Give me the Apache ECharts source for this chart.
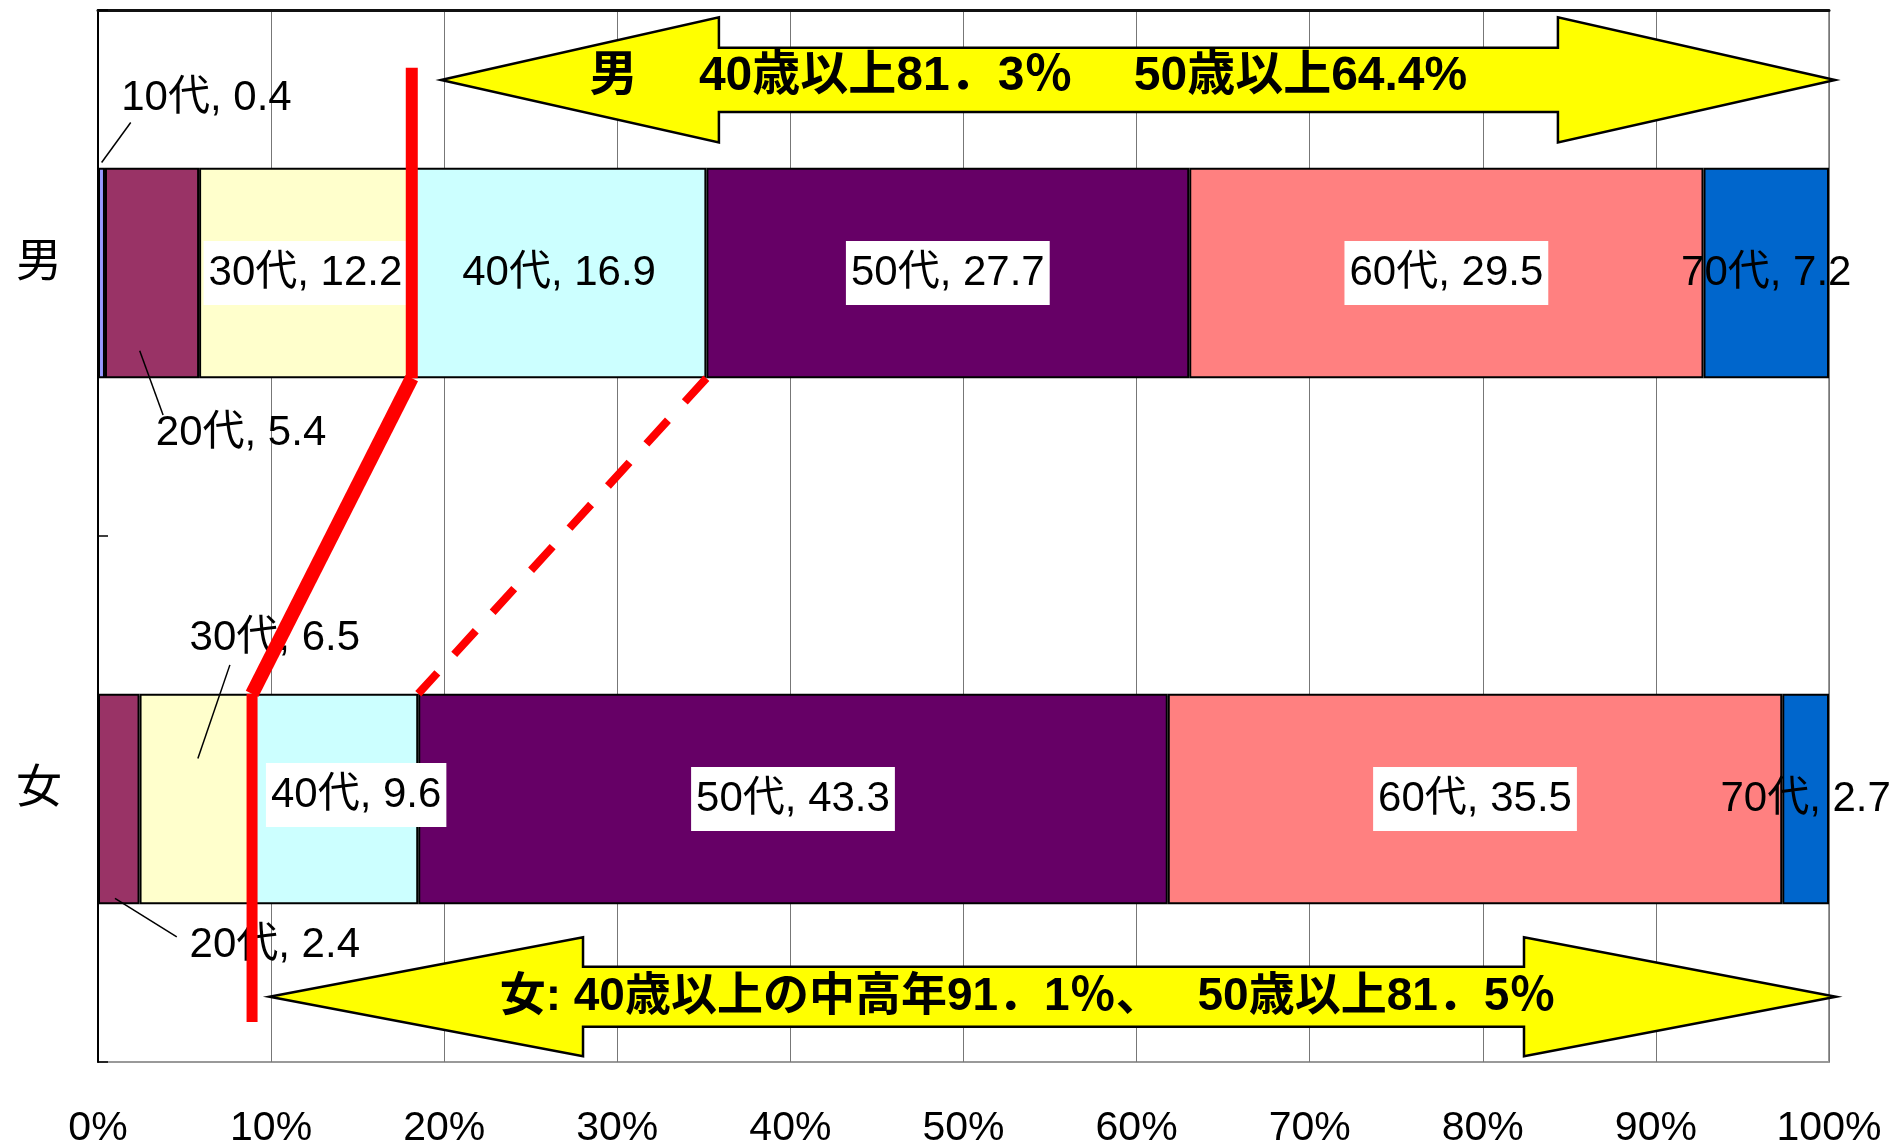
<!DOCTYPE html>
<html>
<head>
<meta charset="utf-8">
<script src="https://cdn.jsdelivr.net/npm/echarts@6/dist/echarts.min.js"></script>
<style>html,body{margin:0;padding:0;background:#fff}#chart{width:1904px;height:1146px}</style>
</head>
<body>
<div id="chart"></div>
<script>
// ---------------- data ----------------
const categories = ['男', '女'];
const ageGroups = ['10代', '20代', '30代', '40代', '50代', '60代', '70代'];
const maleValues = [0.4, 5.4, 12.2, 16.9, 27.7, 29.5, 7.2];
const femaleValues = [0, 2.4, 6.5, 9.6, 43.3, 35.5, 2.7];
const xTickLabels = ['0%', '10%', '20%', '30%', '40%', '50%', '60%', '70%', '80%', '90%', '100%'];
const maleArrowText = '男　 40歳以上81．3％　 50歳以上64.4%';
const femaleArrowText = '女: 40歳以上の中高年91．1％、　 50歳以上81．5％';

// ---------------- styles ----------------
const colors = ['#9999FF', '#993366', '#FFFFCC', '#CCFFFF', '#660066', '#FF8080', '#0066CC'];
const LATIN = '"Liberation Sans", "Noto Sans CJK JP", sans-serif';
const BAR_FRAC = 0.4;
// label layout per age group (male / female)
const maleLabelLayout = [
  { offset: [105, -175] }, { offset: [89, 160] }, { box: true }, {}, { box: true }, { box: true }, {}
];
const femaleLabelLayout = [
  { hide: true }, { offset: [156, 146] }, { offset: [79, -161] }, { box: true, offset: [21, -4] }, { box: true }, { box: true }, {}
];

function hasFont(name) {
  const ctx = document.createElement('canvas').getContext('2d');
  const t = '100% 0123456789 abcdefghij';
  ctx.font = '40px monospace';
  const w1 = ctx.measureText(t).width;
  ctx.font = '40px "' + name + '", monospace';
  const w2 = ctx.measureText(t).width;
  return Math.abs(w1 - w2) > 0.5;
}
const narrowOK = hasFont('Liberation Sans Narrow');
const xLabelFont = narrowOK ? '"Liberation Sans Narrow", sans-serif' : '"Liberation Sans", sans-serif';
const xLabelSize = narrowOK ? 44 : 41;

// ---------------- derived (100% stacked) ----------------
const total = a => a.reduce((s, v) => s + v, 0);
const toPct = a => { const t = total(a); return a.map(v => v / t * 100); };
const malePct = toPct(maleValues);
const femalePct = toPct(femaleValues);
const cum = (a, n) => total(a.slice(0, n));
const barTop = j => j + 0.5 - BAR_FRAC / 2;
const barBottom = j => j + 0.5 + BAR_FRAC / 2;

const m30 = cum(malePct, 3), f30 = cum(femalePct, 3);
const m40 = cum(malePct, 4), f40 = cum(femalePct, 4);

const boxStyle = { backgroundColor: '#fff', padding: [11, 5] };
function makeItem(v, raw, lay) {
  const label = {};
  if (lay.box) Object.assign(label, boxStyle);
  if (lay.offset) label.offset = lay.offset;
  if (lay.hide) label.show = false;
  return { value: v, raw: raw, label: label };
}

const barSeries = ageGroups.map((name, i) => ({
  type: 'bar',
  name: name,
  stack: 'all',
  barWidth: (BAR_FRAC * 100) + '%',
  xAxisIndex: 0,
  yAxisIndex: 0,
  z: 2,
  itemStyle: { color: colors[i], borderColor: '#000', borderWidth: 2 },
  label: {
    show: true,
    position: 'inside',
    color: '#000',
    fontSize: 42,
    fontFamily: LATIN,
    formatter: p => p.seriesName + ', ' + p.data.raw.toFixed(1)
  },
  emphasis: { disabled: true },
  animation: false,
  data: [
    makeItem(malePct[i], maleValues[i], maleLabelLayout[i]),
    makeItem(femalePct[i], femaleValues[i], femaleLabelLayout[i])
  ]
}));

function lineSeries(points, style) {
  return {
    type: 'line',
    xAxisIndex: 0,
    yAxisIndex: 1,
    data: points,
    symbol: 'none',
    silent: true,
    z: 6,
    animation: false,
    lineStyle: Object.assign({ cap: 'butt' }, style)
  };
}

// annotation geometry in axis units (x: %, y: band units 0..2)
const redSolid = [
  lineSeries([[m30, 0.11], [m30, barBottom(0)]], { color: '#FF0000', width: 12 }),
  lineSeries([[m30, barBottom(0)], [f30, barTop(1)]], { color: '#FF0000', width: 14 }),
  lineSeries([[f30, barTop(1)], [f30, 1.924]], { color: '#FF0000', width: 11 })
];
const redDashed = lineSeries([[m40, barBottom(0)], [f40, barTop(1)]], { color: '#FF0000', width: 8, type: [32, 25] });
const leaders = [
  [[1.89, 0.214], [0.21, 0.290]],
  [[2.41, 0.648], [3.76, 0.770]],
  [[7.62, 1.245], [5.77, 1.423]],
  [[0.98, 1.689], [4.55, 1.762]]
].map(pts => lineSeries(pts, { color: '#000', width: 1.5 }));

const arrows = [
  { tipL: 19.82, baseL: 35.87, baseR: 84.34, tipR: 100.35, mid: 0.133, head: 0.119, shaft: 0.061,
    text: maleArrowText, textAt: [53.75, 0.126], size: 48 },
  { tipL: 9.91, baseL: 28.02, baseR: 82.38, tipR: 100.4, mid: 1.876, head: 0.113, shaft: 0.057,
    text: femaleArrowText, textAt: [53.7, 1.877], size: 46 }
];
const arrowSeries = {
  type: 'custom',
  xAxisIndex: 0,
  yAxisIndex: 1,
  z: 5,
  silent: true,
  animation: false,
  data: arrows.map((a, i) => [i, i]),
  renderItem: (params, api) => {
    const a = arrows[params.dataIndex];
    const pts = [
      [a.tipL, a.mid], [a.baseL, a.mid - a.head], [a.baseL, a.mid - a.shaft],
      [a.baseR, a.mid - a.shaft], [a.baseR, a.mid - a.head], [a.tipR, a.mid],
      [a.baseR, a.mid + a.head], [a.baseR, a.mid + a.shaft], [a.baseL, a.mid + a.shaft],
      [a.baseL, a.mid + a.head]
    ].map(p => api.coord(p));
    const c = api.coord(a.textAt);
    return {
      type: 'group',
      children: [
        { type: 'polygon', shape: { points: pts }, style: { fill: '#FFFF00', stroke: '#000', lineWidth: 2.5 } },
        { type: 'text', x: c[0], y: c[1], style: {
            text: a.text, fill: '#000', align: 'center', verticalAlign: 'middle',
            font: 'bold ' + a.size + 'px ' + LATIN } }
      ]
    };
  }
};

const chart = echarts.init(document.getElementById('chart'), null, { renderer: 'canvas' });
chart.setOption({
  backgroundColor: '#fff',
  animation: false,
  grid: {
    left: 98, right: 75, top: 10, bottom: 84,
    show: true, borderColor: '#999', borderWidth: 2, backgroundColor: 'transparent',
    containLabel: false, outerBoundsMode: 'none'
  },
  xAxis: {
    type: 'value',
    min: 0, max: 100, interval: 10,
    axisLine: { show: true, lineStyle: { color: '#111', width: 3 } },
    axisTick: { show: false },
    splitLine: { show: true, lineStyle: { color: '#777', width: 1 } },
    axisLabel: {
      margin: 46,
      fontSize: xLabelSize,
      color: '#000',
      fontFamily: xLabelFont,
      textShadowColor: 'rgba(0,0,0,0.35)', textShadowOffsetX: 1.5, textShadowOffsetY: 1.5, textShadowBlur: 0,
      formatter: v => xTickLabels[Math.round(v / 10)]
    }
  },
  yAxis: [
    {
      type: 'category',
      data: categories,
      inverse: true,
      axisLine: { show: true, lineStyle: { color: '#000', width: 2 } },
      axisTick: { show: true, inside: true, length: 10, lineStyle: { color: '#000', width: 1.5 } },
      splitLine: { show: false },
      axisLabel: {
        margin: 36, fontSize: 46, color: '#000',
        fontFamily: '"Noto Sans CJK JP", sans-serif',
        verticalAlign: 'bottom', lineHeight: 28
      }
    },
    {
      type: 'value', min: 0, max: 2, inverse: true, show: false,
      splitLine: { show: false }
    }
  ],
  series: [...barSeries, arrowSeries, ...redSolid, redDashed, ...leaders]
});
</script>
</body>
</html>
